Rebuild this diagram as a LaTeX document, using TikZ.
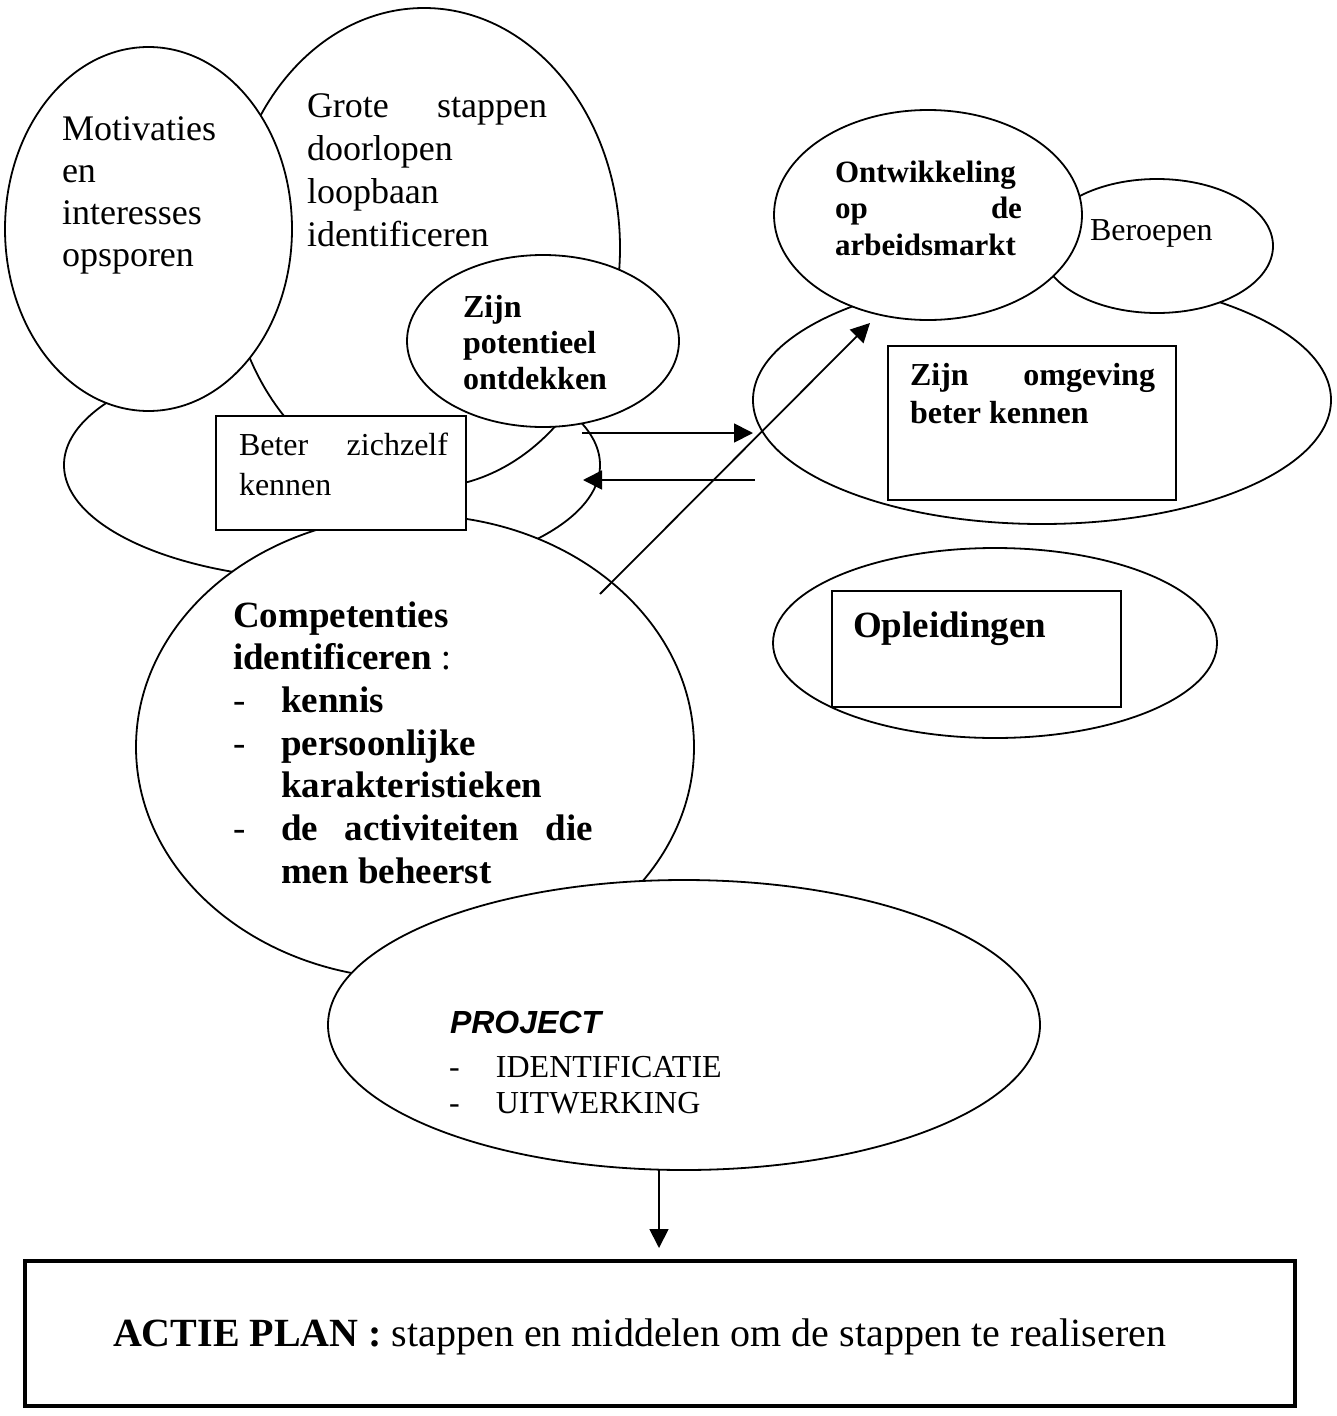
\documentclass[tikz,border=0pt]{standalone}
\usepackage{fontspec}
\setmainfont{Liberation Serif}
\newfontfamily\arialfont{Liberation Sans}
\usetikzlibrary{shapes.geometric,arrows.meta,calc}

\begin{document}
\begin{tikzpicture}[x=1pt,y=-1pt,
  blob/.style={draw=black, fill=white, line width=1.8pt, inner sep=0pt, outer sep=0pt},
  oval/.style={blob, ellipse},
  frame/.style={blob, rectangle},
  txt/.style={inner sep=0pt, outer sep=0pt, anchor=base west, text=black},
  link/.style={line width=1.8pt, -{Triangle[length=19pt,width=19pt]}},
]
\useasboundingbox (0,0) rectangle (1337,1416);

% ---- left cluster: knowing oneself ----
\node[oval, minimum width=536pt, minimum height=230pt] (self) at (332,465) {};
\node[oval, minimum width=392pt, minimum height=480pt] (steps) at (424,248) {};
\node[txt, font=\fontsize{36}{43.3}\selectfont] (tsteps) at (307,117)
  {\vtop{\hbox{\makebox[240pt][s]{Grote stappen}}\hbox{doorlopen}\hbox{loopbaan}\hbox{identificeren}}};
\node[oval, minimum width=287pt, minimum height=364pt] (motiv) at (148.5,229) {};
\node[txt, font=\fontsize{36}{42.3}\selectfont] (tmotiv) at (62,140)
  {\vtop{\hbox{Motivaties}\hbox{en}\hbox{interesses}\hbox{opsporen}}};
\node[oval, minimum width=272pt, minimum height=172pt] (pot) at (543,341) {};
\node[txt, font=\fontsize{32}{36}\selectfont\bfseries] (tpot) at (463,317)
  {\vtop{\hbox{Zijn}\hbox{potentieel}\hbox{ontdekken}}};

% ---- competences ----
\node[oval, minimum width=558pt, minimum height=464pt] (comp) at (415,747) {};
\node[txt, font=\fontsize{37}{42.67}\selectfont] (tcomp) at (233,627)
  {\vtop{%
    \hbox{\bfseries Competenties}%
    \hbox{\textbf{identificeren} :}%
    \hbox{\makebox[48pt][l]{-}\bfseries kennis}%
    \hbox{\makebox[48pt][l]{-}\bfseries persoonlijke}%
    \hbox{\hspace*{48pt}\bfseries karakteristieken}%
    \hbox{\makebox[48pt][l]{-}\makebox[312pt][s]{\bfseries de activiteiten die}}%
    \hbox{\hspace*{48pt}\bfseries men beheerst}}};

\node[frame, minimum width=250pt, minimum height=114pt] (self box) at (341,473) {};
\node[txt, font=\fontsize{32}{40}\selectfont] (tself) at (239,455)
  {\vtop{\hbox{\makebox[209pt][s]{Beter zichzelf}}\hbox{kennen}}};

% ---- project ----
\node[oval, minimum width=712pt, minimum height=290pt] (proj) at (684,1025) {};
\node[txt, font=\arialfont\fontsize{32}{36}\selectfont\bfseries\itshape] (tproj) at (450,1033) {PROJECT};
\node[txt, font=\fontsize{32}{36}\selectfont] (tprojlist) at (449,1077)
  {\vtop{\hbox{\makebox[47pt][l]{-}IDENTIFICATIE}\hbox{\makebox[47pt][l]{-}UITWERKING}}};

% ---- right cluster: knowing the environment ----
\node[oval, minimum width=578pt, minimum height=248pt] (env) at (1042,400) {};
\node[oval, minimum width=232pt, minimum height=134pt] (jobs) at (1157,246) {};
\node[txt, font=\fontsize{32}{36}\selectfont] (tjobs) at (1090,240) {Beroepen};
\node[oval, minimum width=308pt, minimum height=210pt] (market) at (928,215) {};
\node[txt, font=\fontsize{31}{36.5}\selectfont\bfseries] (tmarket) at (835,182)
  {\vtop{\hbox{Ontwikkeling}\hbox{\makebox[187pt][s]{op de}}\hbox{arbeidsmarkt}}};
\node[frame, minimum width=288pt, minimum height=154pt] (env box) at (1032,423) {};
\node[txt, font=\fontsize{32}{38}\selectfont\bfseries] (tenv) at (910,385)
  {\vtop{\hbox{\makebox[245pt][s]{Zijn omgeving}}\hbox{beter kennen}}};

\node[oval, minimum width=444pt, minimum height=190pt] (train) at (995,643) {};
\node[frame, minimum width=289pt, minimum height=116pt] (train box) at (976.5,649) {};
\node[txt, font=\fontsize{37}{42}\selectfont\bfseries] (ttrain) at (853,637) {Opleidingen};

% ---- action plan ----
\node[frame, line width=3.5pt, minimum width=1270pt, minimum height=145pt] (plan) at (660,1333.5) {};
\node[txt, font=\fontsize{40}{48}\selectfont] (tplan) at (113,1346)
  {\textbf{ACTIE PLAN :} stappen en middelen om de stappen te realiseren};

% ---- connectors ----
\coordinate (outA) at (582,433);
\coordinate (outB) at (753,433);
\coordinate (backA) at (755,480);
\coordinate (backB) at (583,480);
\coordinate (upA) at (600,594);
\coordinate (upB) at (870,323);
\coordinate (downA) at (659,1170);
\draw[link] (outA) -- (outB);
\draw[link] (backA) -- (backB);
\draw[link] (upA) -- (upB);
\draw[link] (downA) -- ($(downA |- plan.north)+(0,-13)$);
\end{tikzpicture}
\end{document}
